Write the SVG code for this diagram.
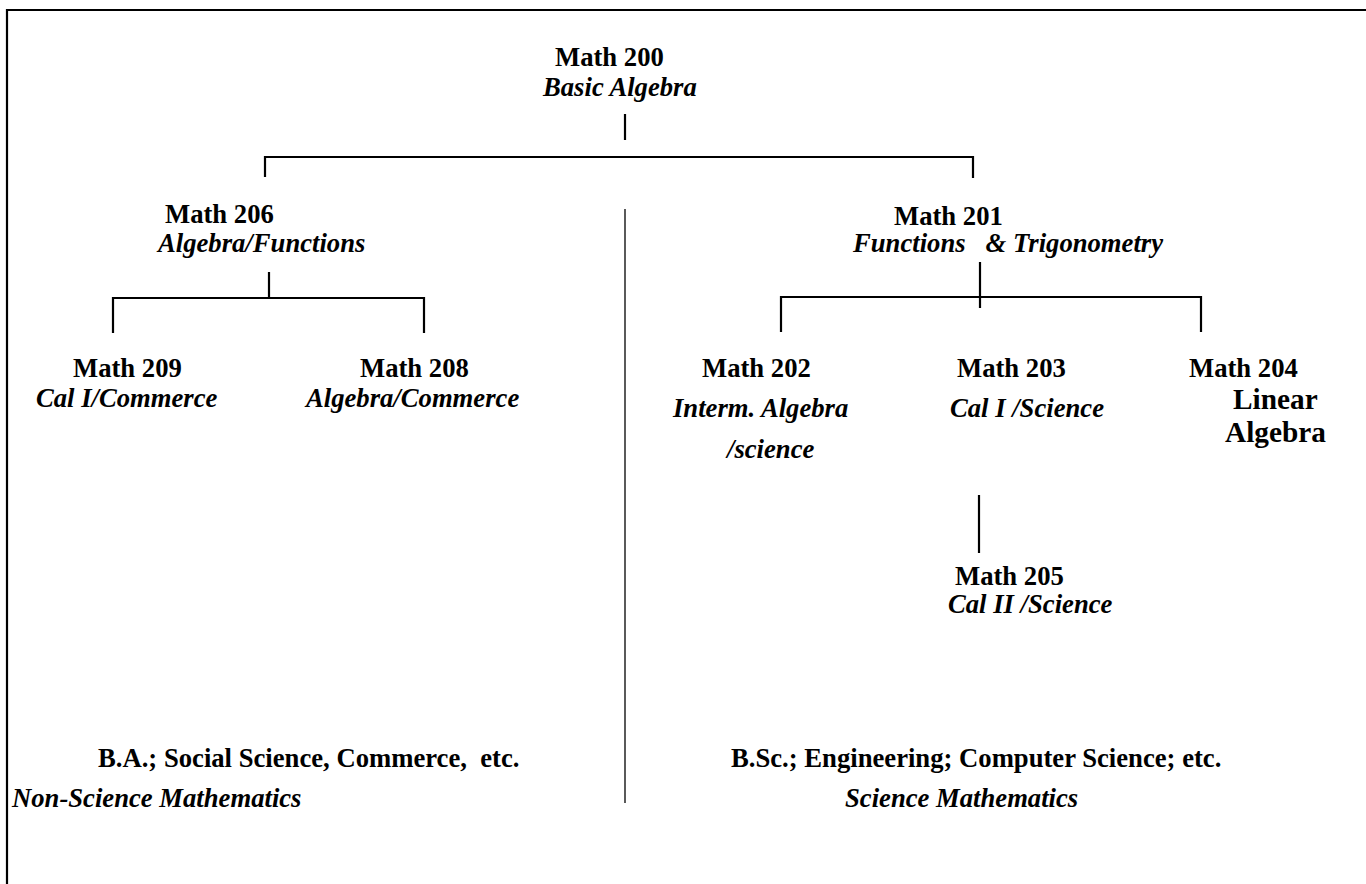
<svg xmlns="http://www.w3.org/2000/svg" width="1366" height="884" viewBox="0 0 1366 884">
<style>
text{font-family:"Liberation Serif","Times New Roman",serif;font-weight:bold;font-size:26.67px;fill:#000;white-space:pre}
.i{font-style:italic}
.big{font-size:29.3px}
.ln{stroke:#000;stroke-width:2.2;fill:none}
.thin{stroke:#000;stroke-width:1.3;fill:none}
</style>
<rect width="1366" height="884" fill="#fff"/>
<g id="frame"><path class="ln" d="M1366,10 H7 V884" stroke-width="2.6"/></g>
<g id="connectors">
<line class="ln" x1="625" y1="114" x2="625" y2="140"/>
<path class="ln" d="M265,177 V157 H973 V178"/>
<line class="ln" x1="269" y1="272" x2="269" y2="298"/>
<path class="ln" d="M113,333 V298 H424 V333"/>
<line class="ln" x1="980" y1="262" x2="980" y2="308"/>
<path class="ln" d="M781,332 V297 H1201 V332"/>
<line class="ln" x1="979" y1="495" x2="979" y2="553"/>
<line class="thin" x1="625" y1="209" x2="625" y2="803"/>
</g>
<g id="math200"><text x="555" y="66">Math 200</text><text class="i" x="543" y="96">Basic Algebra</text></g>
<g id="math206"><text x="165" y="223">Math 206</text><text class="i" x="158" y="252">Algebra/Functions</text></g>
<g id="math201"><text x="894" y="225">Math 201</text><text class="i" x="853" y="252">Functions   &amp; Trigonometry</text></g>
<g id="math209"><text x="73" y="377">Math 209</text><text class="i" x="36" y="407">Cal I/Commerce</text></g>
<g id="math208"><text x="360" y="377">Math 208</text><text class="i" x="306" y="407">Algebra/Commerce</text></g>
<g id="math202"><text x="702" y="377">Math 202</text><text class="i" x="673" y="417">Interm. Algebra</text><text class="i" x="727" y="458">/science</text></g>
<g id="math203"><text x="957" y="377">Math 203</text><text class="i" x="950" y="417">Cal I /Science</text></g>
<g id="math204"><text x="1189" y="377">Math 204</text><text class="big" x="1233" y="409">Linear</text><text class="big" x="1225" y="442">Algebra</text></g>
<g id="math205"><text x="955" y="585">Math 205</text><text class="i" x="948" y="613">Cal II /Science</text></g>
<g id="nonscience"><text x="98" y="767">B.A.; Social Science, Commerce,  etc.</text><text class="i" x="12" y="807">Non-Science Mathematics</text></g>
<g id="science"><text x="731" y="767">B.Sc.; Engineering; Computer Science; etc.</text><text class="i" x="845" y="807">Science Mathematics</text></g>
</svg>
